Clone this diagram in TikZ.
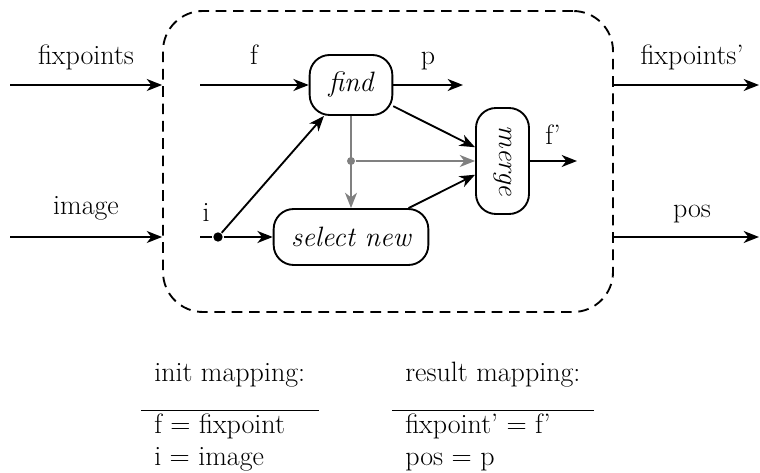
\documentclass[tikz,border=0pt]{standalone}
\usepackage{tikz}
\usetikzlibrary{arrows.meta}
\tikzset{every picture/.style={line width=1.4pt}}
\tikzset{
  proc/.style={draw, rounded corners=15pt, inner sep=0.75pt, font=\fontsize{21}{24}\selectfont\itshape},
  lbl/.style={inner sep=0.75pt, anchor=base, font=\fontsize{21}{24}\selectfont},
  flow/.style={-{Stealth[length=11.5pt,width=9pt,inset=3.5pt]}},
  side/.style={flow, draw=gray, fill=gray},
}

\begin{document}
\begin{tikzpicture}[x=0.75pt,y=0.75pt,yscale=-1,xscale=1]
\useasboundingbox (0,0) rectangle (760,473);

%Shape: dashed module box
\node [draw, dash pattern=on 8pt off 5pt, rounded corners=30pt, minimum width=337.5pt, minimum height=225.75pt, inner sep=0pt] (module) at (388,161.5) {};

%Nodes: processes
\node [proc, minimum width=62pt, minimum height=45pt] (find) at (351,85) {find};
\node [proc, minimum width=116pt, minimum height=42pt] (select) at (351,237) {select new};
\node [proc, rotate=-90, minimum width=79.5pt, minimum height=39.75pt] (merge) at (502.5,161) {merge};

%Split points
\node [circle, fill=black, inner sep=0pt, minimum size=7pt] (isplit) at (218,237) {};
\node [circle, fill=gray, inner sep=0pt, minimum size=6pt] (gsplit) at (351,161) {};

%Free ends
\coordinate (inFix) at (10,85);
\coordinate (inImg) at (10,237);
\coordinate (fIn) at (200,85);
\coordinate (iIn) at (200,237);
\coordinate (pOut) at (463,85);
\coordinate (fOut) at (577,161);
\coordinate (outFix) at (759,85);
\coordinate (outPos) at (759,237);

%Outer arrows
\draw [flow] (inFix) -- (inFix -| module.west);
\draw [flow] (inImg) -- (inImg -| module.west);
\draw [flow] (outFix -| module.east) -- (outFix);
\draw [flow] (outPos -| module.east) -- (outPos);

%Inner arrows
\draw [flow] (fIn) -- (find);
\draw [flow] (find) -- (pOut);
\draw (iIn) -- (isplit);
\draw [flow] (isplit) -- (select);
\draw [flow] (isplit) -- (find);
\draw [flow] (find) -- (merge);
\draw [flow] (select) -- (merge);
\draw [flow] (merge) -- (fOut);
\draw [side] (find) -- (select);
\draw [side] (gsplit) -- (merge);

% Text Node
\node [lbl] (lFix) at (86,65) {fixpoints};
\node [lbl] (lImg) at (86,215) {image};
\node [lbl] (lF) at (254,65) {f};
\node [lbl] (lP) at (428,65) {p};
\node [lbl] (lI) at (206,222) {i};
\node [lbl] (lFp) at (553,145) {f'};
\node [lbl] (lFixp) at (692,65) {fixpoints'};
\node [lbl] (lPos) at (692,218) {pos};

% Mapping tables
\node [anchor=north west, inner sep=0pt, font=\fontsize{21}{24}\selectfont] (init) at (140,358) {\setlength\tabcolsep{10pt}\setlength\arrayrulewidth{1.4pt}\begin{tabular}{l}
init mapping:\\[14pt]\hline
f = fixpoint\\
i = image
\end{tabular}};
\node [anchor=north west, inner sep=0pt, font=\fontsize{21}{24}\selectfont] (result) at (391,358) {\setlength\tabcolsep{10pt}\setlength\arrayrulewidth{1.4pt}\begin{tabular}{l}
result mapping:\\[14pt]\hline
fixpoint' = f'\\
pos = p
\end{tabular}};

\end{tikzpicture}
\end{document}
